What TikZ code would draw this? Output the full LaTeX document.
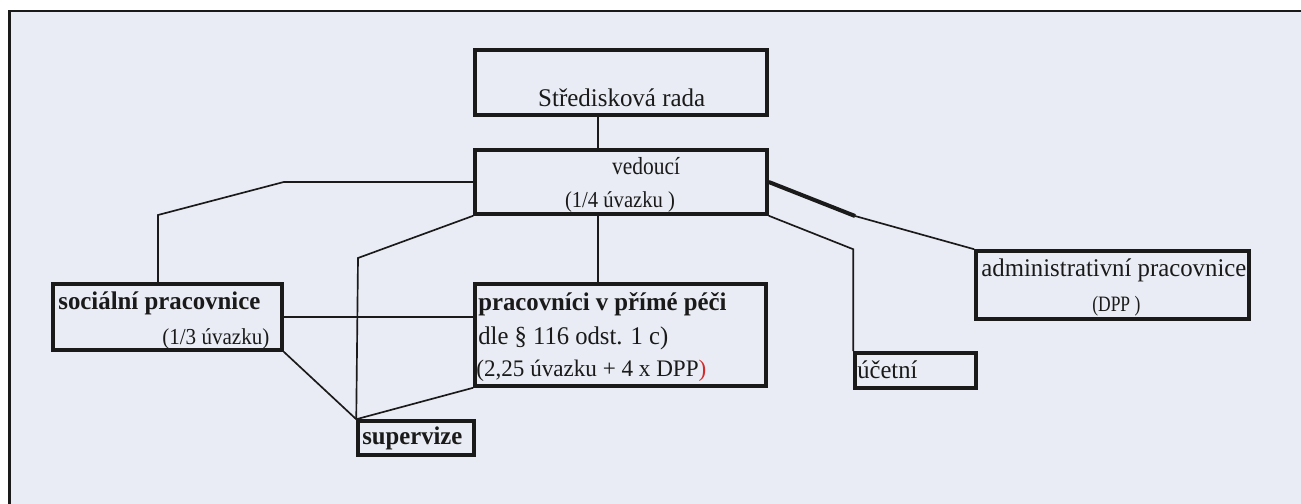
\documentclass[tikz,border=0pt]{standalone}
\usepackage{fontspec}
\usepackage{graphicx}
\setmainfont{Liberation Serif}
\usetikzlibrary{positioning,fit,calc}
\definecolor{scanbg}{HTML}{E9ECF4}
\definecolor{ink}{HTML}{1A1A1A}
\definecolor{inkred}{HTML}{D42A2A}
% text set to the width it has on the scan
\newcommand\fitw[2]{\resizebox{#1}{\height}{#2}}
\tikzset{
  box/.style   ={draw=ink, line width=2pt, inner sep=0pt},
  link/.style  ={draw=ink, line width=0.95pt},
  heavy/.style ={draw=ink, line width=2.3pt},
  lbl/.style   ={text=ink, inner sep=0pt},
  big/.style   ={lbl, font=\fontsize{14.5}{17}\selectfont},
  bigb/.style  ={lbl, font=\fontsize{14.5}{17}\selectfont\bfseries},
  small/.style ={lbl, font=\fontsize{13}{15}\selectfont},
}

\begin{document}
\begin{tikzpicture}[x=0.2mm,y=-0.2mm]
    \useasboundingbox (0,0) rectangle (1301,503);
    % scanned sheet
    \fill[white] (-10,-10) rectangle (1311,513);
    \fill[scanbg] (9.5,11) rectangle (1311,513);
    \draw[ink,line width=1.7pt] (9.5,513) -- (9.5,11) -- (1311,11);
    % --- boxes ---
    \node[box,fit={(475,50) (767,115)}] (rada) {};
    \node[box,fit={(475,150) (767,214)}] (ved) {};
    \node[box,fit={(53,284) (282,350)}] (soc) {};
    \node[box,fit={(475,284) (766,386)}] (prim) {};
    \node[box,fit={(358,421) (474,455)}] (sup) {};
    \node[box,fit={(855,353) (976,388)}] (ucet) {};
    \node[box,fit={(976,251) (1249,319)}] (adm) {};
    % --- texts ---
    \node[big,anchor=base] (radat) at (621.7,107) {\fitw{33.4mm}{Středisková rada}};
    \node[lbl,font=\fontsize{14}{16}\selectfont,anchor=base] (vedt) at (646,174) {\fitw{13.6mm}{vedoucí}};
    \node[small,anchor=base] (vedu) at (620,207) {\fitw{22mm}{(1/4 úvazku )}};
    \node[bigb,anchor=base west] (soct) at (58,309) {\fitw{40.4mm}{sociální pracovnice}};
    \node[small,anchor=base west] (socu) at (162,344) {\fitw{21.4mm}{(1/3 úvazku)}};
    \node[bigb,anchor=base west] (primt) at (478,310) {\fitw{49.6mm}{pracovníci v přímé péči}};
    \node[big,anchor=base west] (primp) at (478,344) {\fitw{38mm}{dle § 116 odst. 1 c)}};
    \node[lbl,font=\fontsize{13.5}{15}\selectfont,anchor=base west] (primu) at (476,376)
        {\fitw{46mm}{(2,25 úvazku + 4 x DPP\textcolor{inkred}{)}}};
    \node[bigb,anchor=base west] (supt) at (362,444) {\fitw{20mm}{supervize}};
    \node[big,anchor=base west] (ucett) at (857,378) {\fitw{12mm}{účetní}};
    \node[big,anchor=base west] (admt) at (981,276) {\fitw{53mm}{administrativní pracovnice}};
    \node[lbl,font=\fontsize{12.5}{14}\selectfont,anchor=base west] (admu) at (1092,311) {\fitw{9.6mm}{(DPP )}};
    % --- connectors ---
    \coordinate (trunk) at (598,0);
    \coordinate (lbend) at (158,215);
    \coordinate (sbend) at (358,258);
    \coordinate (rbend) at (855,216);
    \draw[link] (trunk |- rada.south) -- (trunk |- ved.north);
    \draw[link] (trunk |- ved.south) -- (trunk |- prim.north);
    \draw[link] (ved.west) -- (ved.west -| soc.east) -- (lbend) -- (lbend |- soc.north);
    \draw[link] (ved.south west) -- (sbend) -- (sup.north west);
    \draw[link] (soc.south east) -- (sup.north west);
    \draw[link] (prim.south west) -- (sup.north west);
    \draw[link] (soc.east) -- (soc.east -| prim.west);
    \draw[heavy] (ved.east) -- (rbend);
    \draw[link] (rbend) -- (adm.north west);
    \draw[link] (ved.south east) -- (ucet.north west |- adm.north) -- (ucet.north west);
\end{tikzpicture}
\end{document}
